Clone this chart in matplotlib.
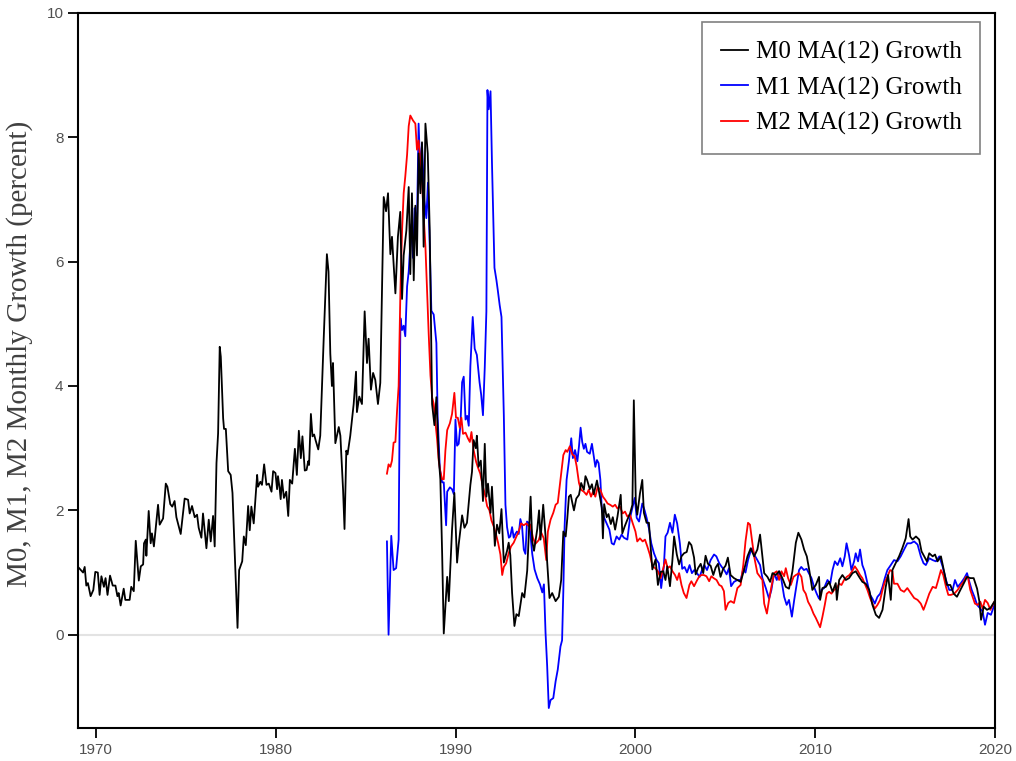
import matplotlib
matplotlib.use("Agg")
import matplotlib.pyplot as plt

# M0 MA(12) growth (year, percent)
m0_years = [1969.0, 1969.28, 1969.37, 1969.46, 1969.55, 1969.7, 1969.85, 1969.96, 1970.1, 1970.2,
            1970.3, 1970.44, 1970.53, 1970.64, 1970.78, 1970.93, 1971.08, 1971.19, 1971.26, 1971.37,
            1971.54, 1971.63, 1971.87, 1971.96, 1972.1, 1972.21, 1972.38, 1972.49, 1972.62, 1972.67,
            1972.77, 1972.8, 1972.93, 1973.04, 1973.11, 1973.22, 1973.45, 1973.54, 1973.73, 1973.88,
            1973.97, 1974.13, 1974.24, 1974.37, 1974.47, 1974.71, 1974.93, 1975.12, 1975.21, 1975.34,
            1975.49, 1975.62, 1975.71, 1975.86, 1975.95, 1976.14, 1976.27, 1976.38, 1976.51, 1976.6,
            1976.7, 1976.79, 1976.88, 1976.94, 1977.07, 1977.12, 1977.22, 1977.35, 1977.49, 1977.59,
            1977.72, 1977.87, 1977.96, 1978.13, 1978.22, 1978.33, 1978.46, 1978.55, 1978.64, 1978.77,
            1978.96, 1979.01, 1979.14, 1979.23, 1979.35, 1979.48, 1979.61, 1979.76, 1979.85, 1979.98,
            1980.07, 1980.12, 1980.21, 1980.27, 1980.34, 1980.45, 1980.58, 1980.69, 1980.78, 1980.91,
            1981.06, 1981.17, 1981.28, 1981.39, 1981.48, 1981.61, 1981.71, 1981.8, 1981.85, 1981.95,
            1982.04, 1982.13, 1982.21, 1982.36, 1982.47, 1982.66, 1982.84, 1982.93, 1983.03, 1983.12,
            1983.18, 1983.31, 1983.5, 1983.59, 1983.74, 1983.82, 1983.92, 1983.99, 1984.14, 1984.33,
            1984.46, 1984.51, 1984.64, 1984.79, 1984.94, 1985.07, 1985.16, 1985.29, 1985.41, 1985.53,
            1985.68, 1985.81, 1986.0, 1986.13, 1986.24, 1986.37, 1986.46, 1986.65, 1986.79, 1986.92,
            1987.02, 1987.11, 1987.26, 1987.39, 1987.48, 1987.57, 1987.67, 1987.76, 1987.85, 1987.94,
            1988.04, 1988.13, 1988.22, 1988.32, 1988.45, 1988.56, 1988.69, 1988.82, 1988.93, 1989.06,
            1989.15, 1989.25, 1989.34, 1989.53, 1989.62, 1989.8, 1989.93, 1990.08, 1990.17, 1990.36,
            1990.49, 1990.63, 1990.82, 1990.91, 1991.0, 1991.12, 1991.18, 1991.28, 1991.4, 1991.52,
            1991.62, 1991.71, 1991.8, 1991.94, 1992.02, 1992.18, 1992.3, 1992.43, 1992.55, 1992.68,
            1992.86, 1992.95, 1993.04, 1993.14, 1993.27, 1993.38, 1993.51, 1993.7, 1993.82, 1993.98,
            1994.08, 1994.17, 1994.26, 1994.36, 1994.54, 1994.64, 1994.72, 1994.87, 1995.0, 1995.13,
            1995.22, 1995.37, 1995.56, 1995.74, 1995.87, 1995.99, 1996.12, 1996.21, 1996.3, 1996.4,
            1996.49, 1996.58, 1996.71, 1996.86, 1996.98, 1997.13, 1997.22, 1997.31, 1997.46, 1997.58,
            1997.68, 1997.86, 1998.0, 1998.13, 1998.19, 1998.26, 1998.4, 1998.5, 1998.63, 1998.74,
            1998.87, 1999.0, 1999.18, 1999.27, 1999.4, 1999.55, 1999.7, 1999.83, 1999.91, 2000.02,
            2000.1, 2000.25, 2000.38, 2000.47, 2000.62, 2000.75, 2000.84, 2000.94, 2001.12, 2001.25,
            2001.4, 2001.55, 2001.67, 2001.77, 2001.92, 2002.05, 2002.15, 2002.3, 2002.43, 2002.56,
            2002.7, 2002.85, 2002.98, 2003.11, 2003.26, 2003.35, 2003.48, 2003.63, 2003.77, 2003.9,
            2004.03, 2004.18, 2004.33, 2004.46, 2004.59, 2004.73, 2004.88, 2005.01, 2005.14, 2005.29,
            2005.48, 2005.67, 2005.85, 2006.04, 2006.23, 2006.41, 2006.6, 2006.78, 2006.93, 2007.06,
            2007.16, 2007.34, 2007.49, 2007.62, 2007.81, 2007.99, 2008.17, 2008.36, 2008.54, 2008.73,
            2008.92, 2009.06, 2009.23, 2009.38, 2009.53, 2009.66, 2009.84, 2010.03, 2010.21, 2010.27,
            2010.4, 2010.59, 2010.77, 2010.96, 2011.14, 2011.2, 2011.33, 2011.51, 2011.7, 2011.88,
            2012.07, 2012.25, 2012.44, 2012.62, 2012.81, 2013.0, 2013.18, 2013.37, 2013.55, 2013.74,
            2013.92, 2014.05, 2014.2, 2014.29, 2014.47, 2014.66, 2014.84, 2015.03, 2015.19, 2015.28,
            2015.41, 2015.6, 2015.78, 2015.91, 2016.06, 2016.21, 2016.34, 2016.53, 2016.66, 2016.8,
            2016.99, 2017.18, 2017.32, 2017.51, 2017.7, 2017.88, 2018.07, 2018.25, 2018.44, 2018.63,
            2018.81, 2019.0, 2019.13, 2019.22, 2019.37, 2019.55, 2019.74, 2019.96]
m0_vals = [1.09, 1.0, 1.09, 0.79, 0.83, 0.62, 0.72, 1.01, 1.0, 0.64,
           0.94, 0.77, 0.91, 0.64, 0.95, 0.79, 0.79, 0.62, 0.67, 0.47,
           0.74, 0.56, 0.56, 0.77, 0.70, 1.51, 0.87, 1.1, 1.13, 1.47,
           1.53, 1.27, 1.99, 1.47, 1.63, 1.42, 2.09, 1.77, 1.87, 2.43,
           2.38, 2.10, 2.06, 2.15, 1.89, 1.62, 2.19, 2.17, 1.95, 2.07,
           1.89, 1.93, 1.72, 1.56, 1.95, 1.39, 1.85, 1.50, 1.91, 1.42,
           2.76, 3.24, 4.63, 4.47, 3.48, 3.31, 3.31, 2.63, 2.57, 2.28,
           1.26, 0.11, 1.04, 1.18, 1.58, 1.44, 2.07, 1.68, 2.06, 1.79,
           2.57, 2.38, 2.46, 2.41, 2.74, 2.41, 2.43, 2.30, 2.63, 2.60,
           2.34, 2.55, 2.36, 2.18, 2.49, 2.20, 2.30, 1.91, 2.49, 2.43,
           2.99, 2.57, 3.28, 2.84, 3.19, 2.64, 2.65, 2.79, 2.73, 3.55,
           3.19, 3.22, 3.13, 2.98, 3.2, 4.74, 6.12, 5.84, 4.52, 4.0,
           4.37, 3.08, 3.34, 3.2, 2.33, 1.70, 2.96, 2.9, 3.2, 3.71,
           4.23, 3.58, 3.83, 3.71, 5.2, 4.37, 4.76, 3.94, 4.21, 4.1,
           3.71, 4.05, 7.04, 6.81, 7.1, 6.12, 6.4, 5.49, 6.4, 6.8,
           5.4, 6.1, 6.5, 7.2, 5.8, 7.1, 5.7, 6.9, 6.1, 7.74,
           7.1, 7.92, 6.24, 8.22, 7.74, 6.5, 3.71, 3.37, 3.82, 2.85,
           2.5, 1.30, 0.02, 0.93, 0.54, 1.69, 2.28, 1.16, 1.45, 1.92,
           1.72, 1.8, 2.41, 2.62, 3.13, 3.0, 3.2, 2.7, 2.8, 2.15,
           3.07, 2.22, 2.43, 1.96, 2.38, 1.43, 1.77, 1.63, 2.02, 1.16,
           1.35, 1.48, 1.28, 0.67, 0.14, 0.33, 0.30, 0.67, 0.60, 1.03,
           1.69, 2.22, 1.5, 1.35, 1.7, 2.0, 1.53, 2.09, 1.58, 0.99,
           0.59, 0.67, 0.54, 0.61, 0.88, 1.66, 1.58, 1.87, 2.22, 2.25,
           2.12, 2.0, 2.19, 2.25, 2.44, 2.33, 2.55, 2.49, 2.34, 2.42,
           2.26, 2.48, 2.26, 2.04, 1.55, 2.1, 1.89, 1.94, 1.78, 1.89,
           1.69, 1.9, 2.25, 1.63, 1.74, 1.85, 1.95, 2.09, 3.77, 2.14,
           1.93, 2.27, 2.49, 1.96, 1.8, 1.8, 1.43, 1.05, 1.21, 0.8,
           1.01, 1.02, 0.88, 1.1, 0.78, 1.18, 1.58, 1.29, 1.13, 1.26,
           1.31, 1.33, 1.49, 1.44, 1.24, 0.97, 1.07, 1.14, 0.99, 1.27,
           1.14, 1.11, 0.96, 1.08, 1.14, 0.93, 1.06, 1.11, 1.24, 0.96,
           0.91, 0.88, 0.85, 1.04, 1.26, 1.39, 1.26, 1.37, 1.61, 1.26,
           0.99, 0.93, 0.85, 0.99, 0.96, 1.02, 0.91, 0.77, 0.74, 1.02,
           1.48, 1.64, 1.53, 1.37, 1.26, 1.05, 0.72, 0.8, 0.93, 0.56,
           0.75, 0.77, 0.85, 0.69, 0.83, 0.56, 0.88, 0.96, 0.88, 0.91,
           0.99, 1.02, 0.93, 0.85, 0.82, 0.72, 0.48, 0.32, 0.27, 0.4,
           0.77, 0.96, 0.56, 1.04, 1.15, 1.26, 1.39, 1.55, 1.86, 1.58,
           1.53, 1.58, 1.53, 1.34, 1.26, 1.18, 1.31, 1.26, 1.29, 1.18,
           1.26, 1.0, 0.8, 0.8, 0.66, 0.61, 0.72, 0.82, 0.93, 0.91,
           0.91, 0.74, 0.53, 0.24, 0.45, 0.4, 0.43, 0.53]

# M1 MA(12) growth
m1_years = [1986.18, 1986.27, 1986.42, 1986.55, 1986.69, 1986.83, 1986.93, 1987.02, 1987.11, 1987.2,
            1987.3, 1987.39, 1987.48, 1987.54, 1987.63, 1987.72, 1987.85, 1987.94, 1988.04, 1988.13,
            1988.26, 1988.37, 1988.46, 1988.56, 1988.65, 1988.78, 1988.93, 1989.0, 1989.12, 1989.25,
            1989.34, 1989.47, 1989.53, 1989.68, 1989.8, 1989.9, 1989.99, 1990.08, 1990.17, 1990.27,
            1990.36, 1990.45, 1990.55, 1990.64, 1990.73, 1990.82, 1990.95, 1991.06, 1991.18, 1991.33,
            1991.42, 1991.52, 1991.62, 1991.71, 1991.77, 1991.84, 1991.94, 1992.02, 1992.16, 1992.27,
            1992.34, 1992.45, 1992.55, 1992.68, 1992.77, 1992.86, 1992.96, 1993.04, 1993.14, 1993.23,
            1993.32, 1993.41, 1993.51, 1993.6, 1993.69, 1993.79, 1993.88, 1993.97, 1994.1, 1994.26,
            1994.39, 1994.54, 1994.69, 1994.82, 1994.91, 1995.0, 1995.09, 1995.18, 1995.28, 1995.43,
            1995.56, 1995.68, 1995.83, 1995.92, 1995.99, 1996.06, 1996.17, 1996.3, 1996.43, 1996.52,
            1996.64, 1996.77, 1996.86, 1996.95, 1997.04, 1997.13, 1997.22, 1997.31, 1997.46, 1997.58,
            1997.68, 1997.77, 1997.86, 1997.95, 1998.05, 1998.13, 1998.26, 1998.4, 1998.55, 1998.68,
            1998.8, 1998.95, 1999.1, 1999.23, 1999.36, 1999.55, 1999.7, 1999.83, 1999.96, 2000.07,
            2000.2, 2000.38, 2000.51, 2000.62, 2000.75, 2000.88, 2001.03, 2001.18, 2001.3, 2001.43,
            2001.58, 2001.67, 2001.79, 2001.92, 2002.06, 2002.19, 2002.32, 2002.47, 2002.6, 2002.73,
            2002.87, 2003.01, 2003.14, 2003.27, 2003.42, 2003.57, 2003.7, 2003.83, 2003.98, 2004.18,
            2004.37, 2004.5, 2004.66, 2004.8, 2004.92, 2005.07, 2005.2, 2005.32, 2005.48, 2005.67,
            2005.85, 2006.0, 2006.12, 2006.26, 2006.37, 2006.49, 2006.62, 2006.78, 2006.93, 2007.06,
            2007.25, 2007.43, 2007.56, 2007.71, 2007.86, 2007.99, 2008.12, 2008.27, 2008.41, 2008.54,
            2008.7, 2008.83, 2008.97, 2009.1, 2009.22, 2009.37, 2009.52, 2009.66, 2009.79, 2009.93,
            2010.08, 2010.21, 2010.34, 2010.49, 2010.68, 2010.83, 2010.96, 2011.09, 2011.24, 2011.39,
            2011.51, 2011.64, 2011.74, 2011.88, 2012.01, 2012.16, 2012.25, 2012.38, 2012.49, 2012.62,
            2012.75, 2012.9, 2013.05, 2013.18, 2013.31, 2013.46, 2013.61, 2013.74, 2013.87, 2014.01,
            2014.2, 2014.38, 2014.57, 2014.75, 2014.94, 2015.12, 2015.31, 2015.5, 2015.69, 2015.87,
            2016.02, 2016.15, 2016.34, 2016.53, 2016.71, 2016.9, 2017.08, 2017.27, 2017.45, 2017.64,
            2017.77, 2017.92, 2018.1, 2018.29, 2018.44, 2018.57, 2018.7, 2018.85, 2019.0, 2019.18,
            2019.31, 2019.44, 2019.59, 2019.77, 2019.96]
m1_vals = [1.50, 0.0, 1.59, 1.04, 1.07, 1.53, 5.09, 4.9, 4.97, 4.8,
           5.6, 5.84, 6.3, 6.6, 6.06, 6.86, 6.6, 8.22, 7.4, 7.9,
           7.0, 6.7, 7.27, 6.24, 5.21, 5.15, 4.69, 3.5, 2.67, 2.45,
           2.45, 1.76, 2.3, 2.37, 2.34, 2.26, 3.46, 3.04, 3.07, 3.39,
           4.06, 4.15, 3.46, 3.52, 3.36, 4.32, 5.11, 4.6, 4.5, 4.06,
           3.86, 3.53, 4.3, 5.2, 8.76, 8.45, 8.74, 7.6, 5.9, 5.7,
           5.55, 5.3, 5.11, 3.53, 2.09, 1.73, 1.56, 1.58, 1.73, 1.56,
           1.62, 1.66, 1.62, 1.86, 1.76, 1.37, 1.3, 1.82, 1.79, 1.3,
           1.05, 0.91, 0.81, 0.68, 0.81, 0.03, -0.5, -1.18, -1.05, -1.02,
           -0.75, -0.56, -0.19, -0.09, 0.71, 1.74, 2.49, 2.79, 3.16, 2.84,
           2.97, 2.79, 3.03, 3.33, 3.1, 2.99, 3.07, 2.94, 2.91, 3.07,
           2.88, 2.7, 2.81, 2.76, 2.49, 2.01, 1.88, 1.79, 1.69, 1.47,
           1.45, 1.58, 1.53, 1.61, 1.56, 1.53, 1.88, 2.04, 2.2, 1.88,
           1.82, 2.11, 2.0, 1.88, 1.71, 1.47, 1.31, 1.2, 1.15, 0.75,
           1.1, 1.58, 1.64, 1.8, 1.64, 1.93, 1.79, 1.47, 1.06, 1.09,
           1.0, 1.12, 0.99, 1.04, 0.99, 0.93, 1.04, 1.12, 1.04, 1.2,
           1.29, 1.26, 1.15, 1.09, 1.05, 0.97, 1.07, 0.78, 0.85, 0.88,
           0.88, 1.06, 1.0, 1.2, 1.31, 1.39, 1.28, 1.2, 1.12, 0.91,
           0.75, 0.58, 0.72, 0.99, 0.88, 1.02, 0.88, 0.61, 0.48, 0.56,
           0.29, 0.56, 0.82, 1.04, 1.09, 1.04, 1.06, 0.98, 0.91, 0.77,
           0.66, 0.58, 0.72, 0.75, 0.88, 0.82, 1.04, 1.18, 1.12, 1.23,
           1.1, 1.26, 1.47, 1.28, 1.04, 1.18, 1.31, 1.18, 1.37, 1.12,
           1.02, 0.83, 0.64, 0.58, 0.5, 0.61, 0.66, 0.77, 0.91, 1.04,
           1.12, 1.2, 1.18, 1.26, 1.37, 1.47, 1.47, 1.5, 1.45, 1.26,
           1.15, 1.12, 1.23, 1.2, 1.18, 1.26, 1.1, 0.88, 0.72, 0.72,
           0.88, 0.77, 0.83, 0.91, 0.99, 0.85, 0.72, 0.61, 0.48, 0.42,
           0.37, 0.16, 0.35, 0.32, 0.48]

# M2 MA(12) growth
m2_years = [1986.18, 1986.27, 1986.37, 1986.46, 1986.55, 1986.65, 1986.74, 1986.83, 1986.93, 1987.02,
            1987.11, 1987.2, 1987.3, 1987.39, 1987.48, 1987.63, 1987.76, 1987.85, 1987.94, 1988.04,
            1988.13, 1988.22, 1988.32, 1988.41, 1988.5, 1988.6, 1988.69, 1988.78, 1988.87, 1988.97,
            1989.06, 1989.15, 1989.25, 1989.34, 1989.43, 1989.53, 1989.68, 1989.8, 1989.93, 1990.02,
            1990.12, 1990.23, 1990.32, 1990.41, 1990.55, 1990.68, 1990.79, 1990.88, 1991.0, 1991.14,
            1991.24, 1991.37, 1991.5, 1991.62, 1991.75, 1991.88, 1991.99, 1992.12, 1992.25, 1992.36,
            1992.49, 1992.59, 1992.68, 1992.81, 1992.96, 1993.08, 1993.23, 1993.38, 1993.51, 1993.64,
            1993.79, 1993.93, 1994.06, 1994.15, 1994.3, 1994.43, 1994.62, 1994.75, 1994.9, 1995.04,
            1995.13, 1995.28, 1995.43, 1995.56, 1995.68, 1995.83, 1995.99, 1996.12, 1996.21, 1996.35,
            1996.49, 1996.62, 1996.73, 1996.86, 1996.98, 1997.13, 1997.28, 1997.4, 1997.53, 1997.64,
            1997.77, 1997.9, 1998.05, 1998.19, 1998.32, 1998.45, 1998.59, 1998.74, 1998.87, 1999.0,
            1999.14, 1999.29, 1999.42, 1999.55, 1999.7, 1999.85, 2000.0, 2000.1, 2000.25, 2000.4,
            2000.53, 2000.66, 2000.8, 2000.95, 2001.1, 2001.25, 2001.4, 2001.55, 2001.67, 2001.79,
            2001.92, 2002.06, 2002.2, 2002.32, 2002.43, 2002.56, 2002.69, 2002.84, 2003.0, 2003.11,
            2003.26, 2003.4, 2003.55, 2003.68, 2003.8, 2003.95, 2004.1, 2004.22, 2004.35, 2004.51,
            2004.66, 2004.79, 2004.92, 2005.01, 2005.16, 2005.3, 2005.48, 2005.67, 2005.85, 2006.0,
            2006.12, 2006.26, 2006.37, 2006.49, 2006.62, 2006.78, 2006.93, 2007.06, 2007.16, 2007.31,
            2007.43, 2007.56, 2007.71, 2007.86, 2007.99, 2008.12, 2008.27, 2008.36, 2008.49, 2008.64,
            2008.79, 2008.92, 2009.1, 2009.23, 2009.34, 2009.47, 2009.6, 2009.75, 2009.9, 2010.03,
            2010.16, 2010.27, 2010.4, 2010.53, 2010.64, 2010.77, 2010.9, 2011.05, 2011.2, 2011.33,
            2011.46, 2011.6, 2011.75, 2011.9, 2012.05, 2012.2, 2012.34, 2012.49, 2012.62, 2012.75,
            2012.9, 2013.05, 2013.18, 2013.31, 2013.46, 2013.61, 2013.74, 2013.87, 2014.01, 2014.16,
            2014.29, 2014.38, 2014.57, 2014.75, 2014.94, 2015.12, 2015.31, 2015.5, 2015.69, 2015.87,
            2016.02, 2016.15, 2016.34, 2016.53, 2016.71, 2016.84, 2016.99, 2017.12, 2017.27, 2017.4,
            2017.54, 2017.73, 2017.92, 2018.1, 2018.25, 2018.38, 2018.5, 2018.62, 2018.75, 2018.88,
            2019.03, 2019.18, 2019.31, 2019.44, 2019.59, 2019.74, 2019.87, 2019.96]
m2_vals = [2.59, 2.74, 2.7, 2.8, 3.09, 3.1, 3.59, 4.0, 5.55, 6.5,
           7.1, 7.37, 7.72, 8.18, 8.35, 8.27, 8.22, 7.8, 7.95, 7.6,
           7.3, 6.75, 6.24, 5.55, 4.85, 4.17, 3.82, 3.71, 3.43, 3.14,
           2.8, 2.62, 2.5, 2.5, 2.96, 3.29, 3.4, 3.55, 3.89, 3.49,
           3.49, 3.33, 3.49, 3.23, 3.25, 3.16, 3.1, 3.26, 2.97, 2.78,
           2.69, 2.59, 2.4, 2.27, 2.07, 2.0, 1.84, 1.74, 1.61, 1.48,
           1.29, 0.96, 1.09, 1.15, 1.32, 1.42, 1.48, 1.58, 1.66, 1.79,
           1.76, 1.79, 1.75, 1.77, 1.56, 1.46, 1.52, 1.65, 1.55, 1.2,
           1.66, 1.85, 1.96, 2.09, 2.12, 2.49, 2.89, 2.97, 2.94, 3.03,
           2.9, 2.87, 2.71, 2.44, 2.33, 2.3, 2.25, 2.33, 2.22, 2.3,
           2.22, 2.38, 2.33, 2.22, 2.17, 2.11, 2.09, 2.06, 2.09, 2.03,
           2.06, 1.95, 1.98, 1.9, 1.93, 1.79, 1.66, 1.5, 1.55, 1.5,
           1.53, 1.42, 1.29, 1.1, 1.07, 1.02, 0.91, 1.07, 1.21, 1.07,
           1.1, 1.02, 0.96, 0.88, 0.99, 0.8, 0.67, 0.59, 0.8, 0.86,
           0.78, 0.86, 0.94, 0.96, 0.96, 0.94, 0.86, 0.94, 0.91, 0.88,
           0.8, 0.78, 0.7, 0.4, 0.51, 0.54, 0.51, 0.75, 0.8, 1.13,
           1.5, 1.8, 1.77, 1.5, 1.23, 0.99, 0.93, 0.88, 0.5, 0.34,
           0.56, 0.77, 0.99, 1.02, 0.88, 1.02, 0.94, 1.07, 0.91, 0.8,
           0.93, 0.96, 0.99, 0.93, 0.72, 0.66, 0.53, 0.45, 0.34, 0.27,
           0.19, 0.12, 0.29, 0.48, 0.66, 0.69, 0.66, 0.72, 0.75, 0.82,
           0.8, 0.88, 0.93, 0.96, 1.02, 1.1, 1.04, 0.96, 0.91, 0.82,
           0.72, 0.59, 0.5, 0.42, 0.48, 0.56, 0.72, 0.85, 0.93, 1.04,
           1.02, 0.82, 0.82, 0.72, 0.69, 0.75, 0.67, 0.59, 0.56, 0.5,
           0.4, 0.5, 0.66, 0.77, 0.75, 0.88, 1.04, 0.96, 0.77, 0.64,
           0.64, 0.66, 0.72, 0.8, 0.85, 0.93, 0.91, 0.72, 0.61, 0.5,
           0.48, 0.53, 0.42, 0.56, 0.51, 0.4, 0.48, 0.53]

serif = ['Liberation Serif', 'DejaVu Serif']
sans = ['Liberation Sans', 'DejaVu Sans']

fig = plt.figure(figsize=(10.16, 7.61), dpi=100)
ax = fig.add_axes([0.0768, 0.0434, 0.9026, 0.9396])

# zero reference line
ax.axhline(0, color='#e3e3e3', linewidth=1.5, zorder=1)

ax.plot(m0_years, m0_vals, color='black', linewidth=1.3, label='M0 MA(12) Growth', zorder=3)
ax.plot(m1_years, m1_vals, color='blue', linewidth=1.3, label='M1 MA(12) Growth', zorder=2)
ax.plot(m2_years, m2_vals, color='red', linewidth=1.3, label='M2 MA(12) Growth', zorder=2)

ax.set_xlim(1969.0, 2020.0)
ax.set_ylim(-1.5, 10)
ax.set_xticks([1970, 1980, 1990, 2000, 2010, 2020])
ax.set_yticks([0, 2, 4, 6, 8, 10])

for s in ax.spines.values():
    s.set_linewidth(1.5)
    s.set_color('black')

ax.tick_params(direction='out', length=7, width=1.3, labelsize=11,
               labelcolor='#505050', top=False, right=False)
for lab in ax.get_xticklabels() + ax.get_yticklabels():
    lab.set_family(sans)

ax.set_ylabel('M0, M1, M2 Monthly Growth (percent)', family=serif, fontsize=21,
              color='#404040', labelpad=10)
ax.yaxis.label.set_y(0.523)

leg = ax.legend(loc='upper right', bbox_to_anchor=(0.984, 0.987), borderaxespad=0,
                prop={'family': serif, 'size': 18}, fancybox=False, framealpha=1,
                handlelength=1.1, handletextpad=0.3, labelspacing=0.5,
                borderpad=0.75)
leg.get_frame().set_edgecolor('#808080')
leg.get_frame().set_linewidth(1.2)

plt.savefig('out.png', dpi=100)
